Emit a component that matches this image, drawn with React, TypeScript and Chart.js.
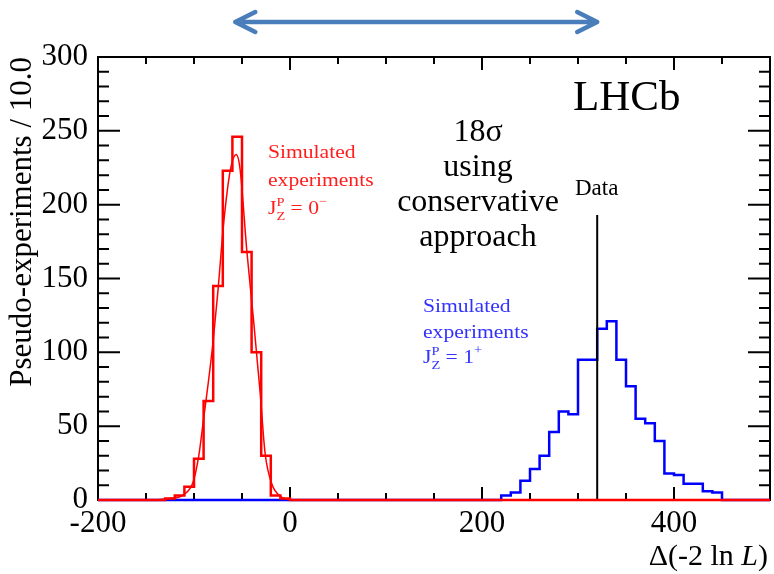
import React, { useEffect, useRef } from 'react';
import { Chart, registerables } from 'chart.js';

Chart.register(...registerables);

// ---------- data ----------
const X_MIN = -200;
const X_MAX = 500;
const Y_MIN = 0;
const Y_MAX = 300;
const BIN_WIDTH = 10;
const X_LABEL_STEP = 200;
const X_MINOR_STEP = 50;
const Y_LABEL_STEP = 50;
const Y_MINOR_STEP = 10;

// J^P = 0^- simulated experiments (red), bins of width 10 starting at redBinStart
const redBinStart = -130;
const redCounts = [1, 3, 9, 28, 67, 145, 223, 246, 168, 100, 30, 3, 1];

// Gaussian-like fit curve
const redFitX = [-140, -125, -111, -101, -95, -90, -85, -80, -75, -69, -62, -56, -52, -45, -38, -31, -26, -19, -9, 0];
const redFitY = [0, 1, 3.5, 12, 30, 55, 80, 108, 142, 188, 224, 234, 224, 169, 122, 72, 32, 11, 2, 0];

// J^P = 1^+ simulated experiments (blue)
const blueBinStart = 220;
const blueCounts = [3, 5, 13, 21, 30, 46, 60, 58, 95, 95, 116, 121, 95, 77, 55, 52, 40, 18, 17, 11, 11, 6, 5];

// observed data value
const dataValue = 320;
const dataLineTop = 193;
// arrow from red peak to data
const arrowFrom = -57;

const SERIF = '"Liberation Serif", "Times New Roman", serif';

function histPoints(start: number, counts: number[]) {
  const pts: { x: number; y: number }[] = [
    { x: X_MIN, y: 0 },
    { x: start, y: 0 },
  ];
  counts.forEach((c, i) => pts.push({ x: start + i * BIN_WIDTH, y: c }));
  pts.push({ x: start + counts.length * BIN_WIDTH, y: 0 });
  pts.push({ x: X_MAX, y: 0 });
  return pts;
}

type Seg = { t: string; size: number; dy?: number; italic?: boolean; dx?: number };

function drawSegs(ctx: CanvasRenderingContext2D, segs: Seg[], x: number, y: number, sx: number) {
  ctx.save();
  ctx.translate(x, y);
  ctx.scale(sx, 1);
  let cx = 0;
  for (const s of segs) {
    ctx.font = `${s.italic ? 'italic ' : ''}${s.size}px ${SERIF}`;
    const px = s.dx !== undefined ? s.dx : cx;
    ctx.fillText(s.t, px, s.dy || 0);
    const w = ctx.measureText(s.t).width;
    if (s.dx === undefined) cx += w;
    else cx = Math.max(cx, s.dx + w);
  }
  ctx.restore();
}

const framePlugin = {
  id: 'frameTicks',
  beforeDatasetsDraw(chart: any) {
    const { ctx, chartArea } = chart;
    const { left, right, top, bottom } = chartArea;
    const xs = chart.scales.x;
    const ys = chart.scales.y;
    ctx.save();
    ctx.strokeStyle = '#000';
    ctx.lineWidth = 2;
    ctx.beginPath();
    for (let v = Y_MIN; v <= Y_MAX; v += Y_MINOR_STEP) {
      const py = ys.getPixelForValue(v);
      const len = v % Y_LABEL_STEP === 0 ? 22 : 11;
      ctx.moveTo(left, py);
      ctx.lineTo(left + len, py);
      ctx.moveTo(right, py);
      ctx.lineTo(right - len, py);
    }
    for (let v = X_MIN; v <= X_MAX; v += X_MINOR_STEP) {
      const px = xs.getPixelForValue(v);
      const len = v % X_LABEL_STEP === 0 ? 13 : 7;
      ctx.moveTo(px, bottom);
      ctx.lineTo(px, bottom - len);
      ctx.moveTo(px, top);
      ctx.lineTo(px, top + len);
    }
    ctx.stroke();
    ctx.strokeRect(left, top, right - left, bottom - top);
    ctx.restore();
  },
  afterDraw(chart: any) {
    const { ctx, chartArea } = chart;
    const xs = chart.scales.x;
    ctx.save();
    ctx.textBaseline = 'alphabetic';
    ctx.textAlign = 'left';

    // y title
    ctx.save();
    ctx.fillStyle = '#000';
    ctx.font = `31px ${SERIF}`;
    ctx.translate(31, chartArea.top);
    ctx.rotate(-Math.PI / 2);
    ctx.textAlign = 'right';
    ctx.fillText('Pseudo-experiments / 10.0', 0, 0);
    ctx.restore();

    // x title, right aligned
    {
      ctx.fillStyle = '#000';
      const parts: Seg[] = [
        { t: 'Δ(-2 ln ', size: 30 },
        { t: 'L', size: 30, italic: true },
        { t: ')', size: 30 },
      ];
      let total = 0;
      for (const p of parts) {
        ctx.font = `${p.italic ? 'italic ' : ''}${p.size}px ${SERIF}`;
        total += ctx.measureText(p.t).width;
      }
      drawSegs(ctx, parts, 768 - total, 565, 1);
    }

    // LHCb
    ctx.fillStyle = '#000';
    ctx.font = `43px ${SERIF}`;
    ctx.fillText('LHCb', 573, 110);

    // central text
    ctx.textAlign = 'center';
    ctx.font = `32px ${SERIF}`;
    const cx = 478;
    ctx.fillText('18σ', cx, 141);
    ctx.fillText('using', cx, 176);
    ctx.fillText('conservative', cx, 211);
    ctx.fillText('approach', cx, 246);

    // Data label
    ctx.textAlign = 'left';
    ctx.font = `23px ${SERIF}`;
    ctx.fillText('Data', 575, 195);

    // red annotation
    const sx = 1.2;
    ctx.fillStyle = 'rgb(255,30,30)';
    drawSegs(ctx, [{ t: 'Simulated', size: 18 }], 268, 158, sx);
    drawSegs(ctx, [{ t: 'experiments', size: 18 }], 268, 186, sx);
    drawSegs(
      ctx,
      [
        { t: 'J', size: 18 },
        { t: 'P', size: 12, dy: -8 },
        { t: 'Z', size: 12, dy: 6, dx: 7 },
        { t: ' = 0', size: 18 },
        { t: '−', size: 12, dy: -9 },
      ],
      268,
      214,
      sx
    );

    // blue annotation
    ctx.fillStyle = 'rgb(50,50,255)';
    drawSegs(ctx, [{ t: 'Simulated', size: 18 }], 423, 312, sx);
    drawSegs(ctx, [{ t: 'experiments', size: 18 }], 423, 338, sx);
    drawSegs(
      ctx,
      [
        { t: 'J', size: 18 },
        { t: 'P', size: 12, dy: -8 },
        { t: 'Z', size: 12, dy: 6, dx: 7 },
        { t: ' = 1', size: 18 },
        { t: '+', size: 12, dy: -9 },
      ],
      423,
      363,
      sx
    );

    // top arrow
    const ax1 = xs.getPixelForValue(arrowFrom);
    const ax2 = xs.getPixelForValue(dataValue);
    const ay = 22;
    ctx.strokeStyle = 'rgb(74,126,187)';
    ctx.lineWidth = 4.5;
    ctx.lineCap = 'round';
    ctx.lineJoin = 'round';
    ctx.beginPath();
    ctx.moveTo(ax1, ay);
    ctx.lineTo(ax2, ay);
    ctx.moveTo(ax1 + 20, ay - 10);
    ctx.lineTo(ax1, ay);
    ctx.lineTo(ax1 + 20, ay + 10);
    ctx.moveTo(ax2 - 20, ay - 10);
    ctx.lineTo(ax2, ay);
    ctx.lineTo(ax2 - 20, ay + 10);
    ctx.stroke();

    ctx.restore();
  },
};

export default function App() {
  const ref = useRef<HTMLCanvasElement | null>(null);

  useEffect(() => {
    document.body.style.margin = '0';
    const canvas = ref.current;
    if (!canvas) return;

    const redHist = histPoints(redBinStart, redCounts);
    const blueHist = histPoints(blueBinStart, blueCounts);
    const fit = redFitX.map((x, i) => ({ x, y: redFitY[i] }));
    const dataLine = [
      { x: dataValue, y: 0 },
      { x: dataValue, y: dataLineTop },
    ];

    const chart = new Chart(canvas, {
      type: 'line',
      data: {
        datasets: [
          {
            label: 'red',
            data: redHist,
            stepped: 'before',
            borderColor: 'rgb(255,0,0)',
            borderWidth: 2.5,
            pointRadius: 0,
            fill: false,
            clip: false,
            order: 0,
          } as any,
          {
            label: 'fit',
            data: fit,
            borderColor: 'rgb(255,0,0)',
            borderWidth: 1.5,
            pointRadius: 0,
            cubicInterpolationMode: 'monotone',
            fill: false,
            order: 1,
          } as any,
          {
            label: 'data',
            data: dataLine,
            borderColor: '#000',
            borderWidth: 2,
            pointRadius: 0,
            fill: false,
            order: 2,
          } as any,
          {
            label: 'blue',
            data: blueHist,
            stepped: 'before',
            borderColor: 'rgb(0,0,255)',
            borderWidth: 2.5,
            pointRadius: 0,
            fill: false,
            clip: false,
            order: 3,
          } as any,
        ],
      },
      options: {
        responsive: false,
        animation: false,
        devicePixelRatio: 1,
        parsing: false as any,
        layout: { padding: { top: 57, right: 4, left: 0, bottom: 0 } },
        plugins: {
          legend: { display: false },
          tooltip: { enabled: false },
        },
        scales: {
          x: {
            type: 'linear',
            min: X_MIN,
            max: X_MAX,
            grid: { display: false, drawTicks: false },
            border: { display: false },
            ticks: {
              stepSize: X_LABEL_STEP,
              includeBounds: false,
              color: '#000',
              padding: 5,
              maxRotation: 0,
              autoSkip: false,
              font: { family: SERIF, size: 31 },
            },
            afterFit: (s: any) => {
              s.height = 74;
            },
          },
          y: {
            type: 'linear',
            min: Y_MIN,
            max: Y_MAX,
            grid: { display: false, drawTicks: false },
            border: { display: false },
            ticks: {
              stepSize: Y_LABEL_STEP,
              color: '#000',
              padding: 10,
              font: { family: SERIF, size: 31 },
            },
            afterFit: (s: any) => {
              s.width = 98;
            },
          },
        },
      },
      plugins: [framePlugin],
    } as any);

    return () => chart.destroy();
  }, []);

  return (
    <div style={{ width: 774, height: 574 }}>
      <canvas ref={ref} width={774} height={574} />
    </div>
  );
}
